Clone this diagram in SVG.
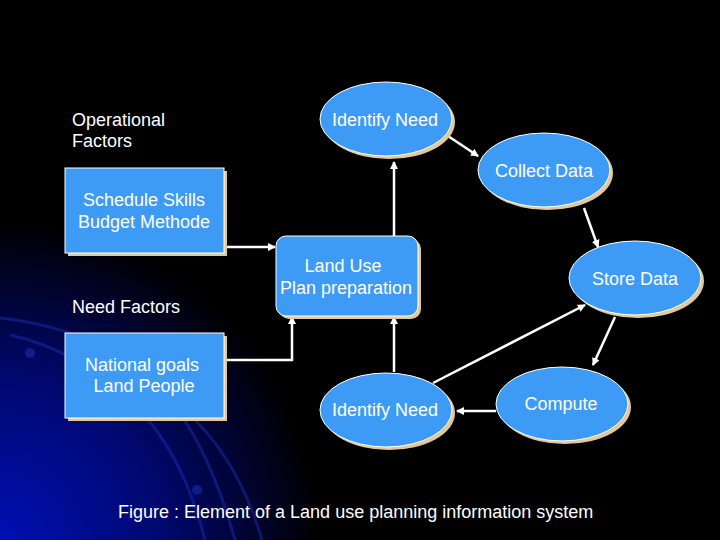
<svg xmlns="http://www.w3.org/2000/svg" width="720" height="540" viewBox="0 0 720 540">
<defs>
<radialGradient id="bg" cx="0" cy="540" r="320" gradientUnits="userSpaceOnUse">
<stop offset="0" stop-color="#0010b4"/>
<stop offset="0.5" stop-color="#000870"/>
<stop offset="1" stop-color="#000000"/>
</radialGradient>
<marker id="ah" markerWidth="8" markerHeight="8" refX="7" refY="4" orient="auto" markerUnits="userSpaceOnUse">
<path d="M0,0 L8,4 L0,8 z" fill="#ffffff"/>
</marker>
</defs>
<style>
.node{fill:#3d9bf5;stroke:#ffffff;stroke-width:1}
.shadow{fill:#e6c896}
.t{font-family:"Liberation Sans",Arial,sans-serif;font-size:18px;fill:#ffffff}
.c{text-anchor:middle}
.conn{stroke:#ffffff;stroke-width:2.5;fill:none}
.arc{stroke:#1a2cb0;stroke-width:3;fill:none;opacity:0.5}
</style>
<rect width="720" height="540" fill="#000000"/>
<rect width="720" height="540" fill="url(#bg)"/>
<g id="background-arcs">
<path class="arc" d="M0,318 Q110,330 170,400 Q210,450 235,540"/>
<path class="arc" d="M10,335 Q80,350 140,410 Q185,460 205,540"/>
<path class="arc" d="M195,420 Q240,465 262,540"/>
<circle cx="30" cy="353" r="5" fill="#1a2cb0" opacity="0.6"/>
<circle cx="197" cy="490" r="5" fill="#1a2cb0" opacity="0.6"/>
</g>
<text class="t" x="72" y="126">Operational</text>
<text class="t" x="72" y="147">Factors</text>
<text class="t" x="72" y="313">Need Factors</text>
<g id="connectors">
<line class="conn" x1="224" y1="247" x2="275" y2="247" marker-end="url(#ah)"/>
<line class="conn" x1="394" y1="236" x2="394" y2="162" marker-end="url(#ah)"/>
<line class="conn" x1="448" y1="136" x2="478" y2="156" marker-end="url(#ah)"/>
<line class="conn" x1="584" y1="208" x2="598" y2="247" marker-end="url(#ah)"/>
<line class="conn" x1="433" y1="383" x2="585" y2="305" marker-end="url(#ah)"/>
<line class="conn" x1="615" y1="317" x2="593" y2="365" marker-end="url(#ah)"/>
<line class="conn" x1="496" y1="411" x2="457" y2="411" marker-end="url(#ah)"/>
<line class="conn" x1="394" y1="372" x2="394" y2="317" marker-end="url(#ah)"/>
<polyline class="conn" points="224,360 292,360 292,317" marker-end="url(#ah)"/>
</g>
<g id="identify-need-top">
<ellipse class="shadow" cx="389" cy="122" rx="66" ry="37"/>
<ellipse class="node" cx="386" cy="119" rx="66" ry="37"/>
<text class="t c" x="385" y="126">Identify Need</text>
</g>
<g id="collect-data">
<ellipse class="shadow" cx="547" cy="173" rx="66" ry="37"/>
<ellipse class="node" cx="544" cy="170" rx="66" ry="37"/>
<text class="t c" x="544" y="177">Collect Data</text>
</g>
<g id="store-data">
<ellipse class="shadow" cx="638" cy="281" rx="66" ry="37"/>
<ellipse class="node" cx="635" cy="278" rx="66" ry="37"/>
<text class="t c" x="635" y="285">Store Data</text>
</g>
<g id="compute">
<ellipse class="shadow" cx="565" cy="407" rx="66" ry="37"/>
<ellipse class="node" cx="562" cy="404" rx="66" ry="37"/>
<text class="t c" x="561" y="410">Compute</text>
</g>
<g id="identify-need-bottom">
<ellipse class="shadow" cx="389" cy="413" rx="66" ry="37"/>
<ellipse class="node" cx="386" cy="410" rx="66" ry="37"/>
<text class="t c" x="385" y="416">Identify Need</text>
</g>
<g id="schedule-skills">
<rect class="shadow" x="68" y="171" width="159" height="85"/>
<rect class="node" x="65" y="168" width="159" height="85"/>
<text class="t c" x="144" y="206">Schedule Skills</text>
<text class="t c" x="144" y="228">Budget Methode</text>
</g>
<g id="land-use">
<rect class="shadow" x="279" y="239" width="142" height="80" rx="10"/>
<rect class="node" x="276" y="236" width="142" height="80" rx="10"/>
<text class="t c" x="343" y="272">Land Use</text>
<text class="t c" x="346" y="294">Plan preparation</text>
</g>
<g id="national-goals">
<rect class="shadow" x="68" y="336" width="159" height="85"/>
<rect class="node" x="65" y="333" width="159" height="85"/>
<text class="t c" x="142" y="371">National goals</text>
<text class="t c" x="144" y="392">Land People</text>
</g>
<text class="t" x="118" y="518">Figure : Element of a Land use planning information system</text>
</svg>
